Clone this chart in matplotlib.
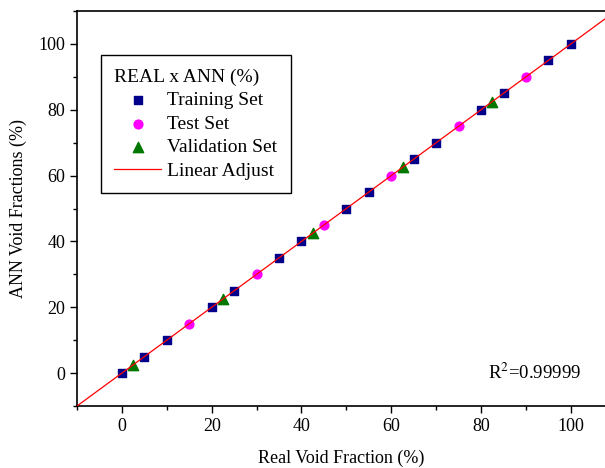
import matplotlib
matplotlib.use('Agg')
import matplotlib.pyplot as plt
from matplotlib.ticker import MultipleLocator

plt.rcParams['font.family'] = ['Liberation Serif', 'DejaVu Serif']
plt.rcParams['mathtext.fontset'] = 'stix'

# data
train_x = [0, 5, 10, 20, 25, 35, 40, 50, 55, 65, 70, 80, 85, 95, 100]
train_y = [0, 5, 10, 20, 25, 35, 40, 50, 55, 65, 70, 80, 85, 95, 100]
test_x = [15, 30, 45, 60, 75, 90]
test_y = [15, 30, 45, 60, 75, 90]
valid_x = [2.5, 22.5, 42.5, 62.5, 82.5]
valid_y = [2.5, 22.5, 42.5, 62.5, 82.5]
fit_x = [-10, 110]
fit_y = [-10, 110]

fig = plt.figure(figsize=(6.05, 4.68), dpi=100)
ax = fig.add_axes([77 / 605, (468 - 406) / 468, (605 - 77) / 605, (406 - 11) / 468])

ax.plot(fit_x, fit_y, color='red', lw=0.9, label='Linear Adjust', zorder=3)
ax.scatter(train_x, train_y, marker='s', s=32, color='#00008b', label='Training Set', zorder=2)
ax.scatter(test_x, test_y, marker='o', s=40, color='#ff00ff', label='Test Set', zorder=2)
ax.scatter(valid_x, valid_y, marker='^', s=55, color='#007800', label='Validation Set', zorder=2)

ax.set_xlim(-10, 107.6)
ax.set_ylim(-10, 110)
ax.xaxis.set_major_locator(MultipleLocator(20))
ax.xaxis.set_minor_locator(MultipleLocator(10))
ax.yaxis.set_major_locator(MultipleLocator(20))
ax.yaxis.set_minor_locator(MultipleLocator(10))
ax.tick_params(which='both', direction='out', top=False, right=False, labelsize=13)
ax.tick_params(which='major', length=5, width=1)
ax.tick_params(which='minor', length=3, width=1)
ax.spines['right'].set_visible(False)
for s in ['left', 'bottom', 'top']:
    ax.spines[s].set_linewidth(1.2)

ax.set_xlabel('Real Void Fraction (%)', fontsize=13, labelpad=11)
ax.set_ylabel('ANN Void Fractions (%)', fontsize=13, labelpad=8)

handles, labels = ax.get_legend_handles_labels()
order = [1, 2, 3, 0]
leg = ax.legend([handles[i] for i in order], [labels[i] for i in order],
                title='REAL x ANN (%)', loc='upper left', bbox_to_anchor=(0.045, 0.889),
                borderaxespad=0, fontsize=14, title_fontsize=14, fancybox=False,
                framealpha=1, edgecolor='black', borderpad=0.7, labelspacing=0.3,
                handlelength=2.4, handletextpad=0.3)
leg._legend_box.align = 'left'
leg.get_frame().set_linewidth(1.0)

ax.text(0.955, 0.084, 'R$^2$=0.99999', transform=ax.transAxes, ha='right',
        va='center', fontsize=13.5)

fig.savefig('out.png', dpi=100)
